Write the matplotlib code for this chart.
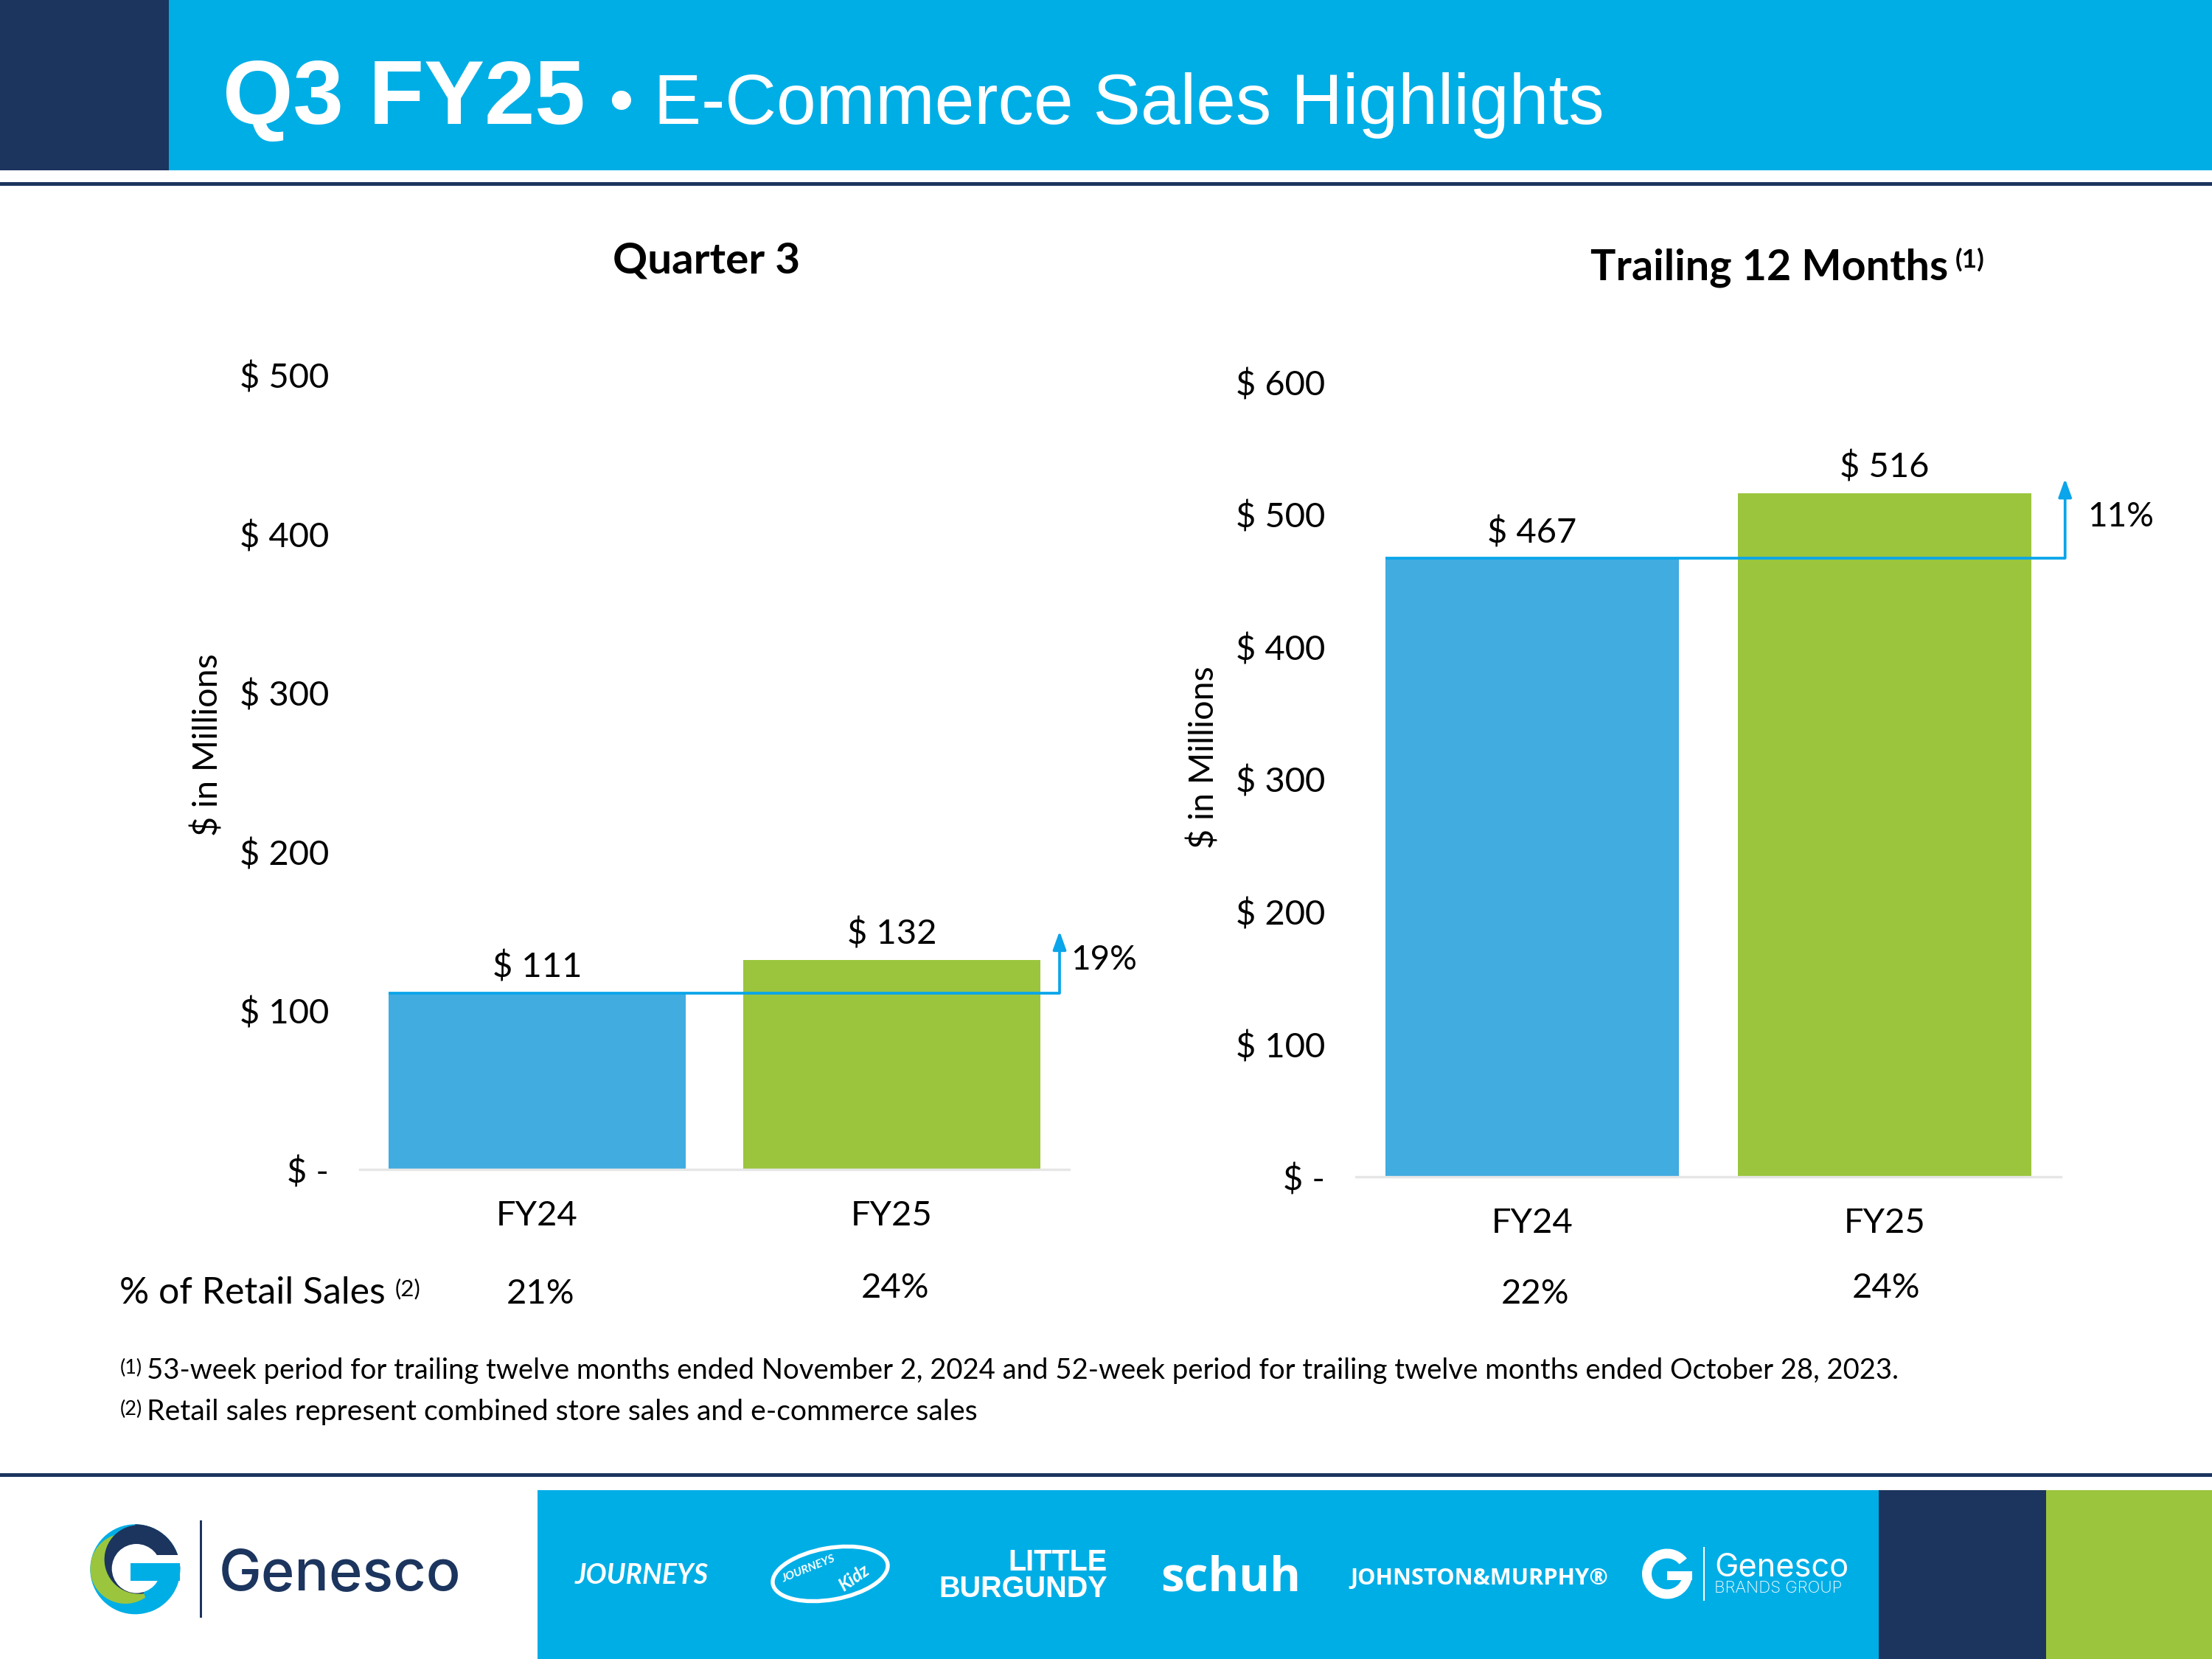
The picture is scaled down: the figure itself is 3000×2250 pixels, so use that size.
import matplotlib
matplotlib.use("Agg")
import matplotlib.pyplot as plt
from matplotlib.patches import Rectangle, Wedge, Ellipse, Circle

W, H = 3000, 2250
NAVY = "#1C355E"
CYAN = "#00AEE6"
BAR_BLUE = "#41ACE0"
BAR_GREEN = "#9BC53D"
LINE_BLUE = "#0AA5EA"
BODY_FONT = "Lato"
HEAD_FONT = "Liberation Sans"

categories = ["FY24", "FY25"]

q3_values = [111, 132]
q3_labels = ["$ 111", "$ 132"]
q3_ticks = [0, 100, 200, 300, 400, 500]
q3_tick_labels = ["$ -", "$ 100", "$ 200", "$ 300", "$ 400", "$ 500"]
q3_growth = "19%"
q3_retail = ["21%", "24%"]

ttm_values = [467, 516]
ttm_labels = ["$ 467", "$ 516"]
ttm_ticks = [0, 100, 200, 300, 400, 500, 600]
ttm_tick_labels = ["$ -", "$ 100", "$ 200", "$ 300", "$ 400", "$ 500", "$ 600"]
ttm_growth = "11%"
ttm_retail = ["22%", "24%"]

footnote_1 = "53-week period for trailing twelve months ended November 2, 2024 and 52-week period for trailing twelve months ended October 28, 2023."
footnote_2 = "Retail sales represent combined store sales and e-commerce sales"

plt.rcParams["font.family"] = BODY_FONT
fig = plt.figure(figsize=(10, 7.5), dpi=300)


def px_axes(left, top, right, bottom):
    # axes placed with pixel edges, y measured from the top of the slide
    return fig.add_axes([left / W, 1 - bottom / H, (right - left) / W, (bottom - top) / H])


# background layer in slide pixels, for the header, footer and logos
bg = fig.add_axes([0, 0, 1, 1], zorder=0)
bg.set_xlim(0, W)
bg.set_ylim(H, 0)
bg.axis("off")


def box(x0, y0, x1, y1, color):
    bg.add_patch(Rectangle((x0, y0), x1 - x0, y1 - y0, color=color, lw=0))


def t(x, y, s, size, **kw):
    kw.setdefault("color", "black")
    kw.setdefault("va", "baseline")
    bg.text(x, y, s, fontsize=size, **kw)


# ---------------- header ----------------
box(0, 0, W, 231, CYAN)
box(0, 0, 229, 231, NAVY)
box(0, 247, W, 252, NAVY)
t(302, 168, "Q3 FY25", 29.5, color="white", family=HEAD_FONT, weight="bold")
t(826, 168, "• E-Commerce Sales Highlights", 23.2, color="white", family=HEAD_FONT)

# ---------------- chart titles ----------------
t(958, 371, "Quarter 3", 14, ha="center", weight="bold")
t(2157, 380, "Trailing 12 Months", 13.8, weight="bold")
t(2652, 363, "(1)", 8.5, weight="bold")


def draw_chart(ax, values, labels, ticks, tick_labels, ymax, width, arrow_x, arrow_top, growth, growth_xy, ylabel_xy):
    ax.set_facecolor("none")
    ax.bar(categories, values, width=width, color=[BAR_BLUE, BAR_GREEN])
    ax.set_xlim(-0.5, 1.5)
    ax.set_ylim(0, ymax)
    for s in ["top", "left", "right"]:
        ax.spines[s].set_visible(False)
    ax.spines["bottom"].set_color("#E6E6E6")
    ax.spines["bottom"].set_linewidth(0.8)
    ax.set_yticks(ticks)
    ax.set_yticklabels(tick_labels)
    ax.tick_params(axis="both", length=0, labelsize=11.3)
    ax.tick_params(axis="y", pad=10)
    ax.tick_params(axis="x", pad=10)
    ax.set_ylabel("$ in Millions", fontsize=11.2, labelpad=0)
    ax.yaxis.set_label_coords(*ylabel_xy)

    for i, (v, lab) in enumerate(zip(values, labels)):
        ax.text(i, v + ymax * 0.012, lab, fontsize=11.3, ha="center", va="bottom")

    # growth connector from the FY24 bar top across to the arrow
    ax.plot([-width / 2, arrow_x], [values[0], values[0]], color=LINE_BLUE, lw=0.9, clip_on=False, zorder=4, solid_capstyle="butt")
    ax.annotate("", xy=(arrow_x, arrow_top), xytext=(arrow_x, values[0]), annotation_clip=False, zorder=4,
                arrowprops=dict(arrowstyle="-|>,head_length=0.5,head_width=0.18", color=LINE_BLUE, lw=0.9, shrinkA=0, shrinkB=0))
    ax.text(growth_xy[0], growth_xy[1], growth, fontsize=11, ha="left", va="center", clip_on=False)


# ---------------- left chart ----------------
ax1 = px_axes(488, 509, 1450, 1586)
draw_chart(ax1, q3_values, q3_labels, q3_ticks, q3_tick_labels, 500, 0.836, 1.473, 150, q3_growth, (1.505, 132), (-0.192, 0.535))

# ---------------- right chart ----------------
ax2 = px_axes(1839, 518, 2795, 1596)
draw_chart(ax2, ttm_values, ttm_labels, ttm_ticks, ttm_tick_labels, 600, 0.833, 1.512, 527, ttm_growth, (1.576, 498), (-0.193, 0.528))

# ---------------- retail share row ----------------
t(162, 1768, "% of Retail Sales", 12)
t(536, 1757, "(2)", 7.5)
t(733, 1768, q3_retail[0], 11.3, ha="center")
t(1214, 1760, q3_retail[1], 11.3, ha="center")
t(2082, 1768, ttm_retail[0], 11.3, ha="center")
t(2558, 1760, ttm_retail[1], 11.3, ha="center")

# ---------------- footnotes ----------------
t(163, 1863, "(1)", 6.5)
t(199, 1870, footnote_1, 9.2)
t(163, 1919, "(2)", 6.5)
t(199, 1926, footnote_2, 9.4)

# ---------------- footer ----------------
box(0, 1998, W, 2003, NAVY)
box(729, 2021, 2548, H, CYAN)
box(2548, 2021, 2775, H, NAVY)
box(2775, 2021, W, H, BAR_GREEN)

# Genesco G mark, built from overlapping discs clipped to the outer circle
outer = Circle((183.3, 2128.3), 61, transform=bg.transData)
bg.add_patch(Circle((183.3, 2128.3), 61, color=CYAN, lw=0))
bg.add_patch(Circle((170, 2127.3), 47.7, color=BAR_GREEN, lw=0, clip_path=outer))
bg.add_patch(Circle((188.3, 2115), 46.7, color=NAVY, lw=0, clip_path=outer))
bg.add_patch(Wedge((183.3, 2128.3), 61, 270, 360, color=NAVY, lw=0))
bg.add_patch(Wedge((183.3, 2128.3), 61, 0, 70, color=CYAN, lw=0))
bg.add_patch(Circle((185, 2127.3), 33.3, color="white", lw=0))
box(210, 2109, 250, 2120, "white")
box(177.3, 2120, 244.3, 2144, CYAN)
box(271, 2062, 273.5, 2194, NAVY)
t(297, 2157, "Genesco", 18.6, color=NAVY, family="Inter", weight="medium")

# brand marks
t(780, 2148, "JOURNEYS", 9, color="white", family=BODY_FONT, style="italic", weight="bold")
bg.add_patch(Ellipse((1126, 2134.5), 158, 70, angle=-10, fc="none", ec="white", lw=1.3))
t(1096, 2128, "JOURNEYS", 3.8, color="white", family=BODY_FONT, style="italic", weight="bold", ha="center", va="center", rotation=22)
t(1158, 2140, "Kidz", 5.8, color="white", family=BODY_FONT, style="italic", weight="bold", ha="center", va="center", rotation=35)
t(1502, 2130, "LITTLE", 9.5, color="white", family=HEAD_FONT, weight="bold", ha="right")
t(1502, 2166, "BURGUNDY", 9.5, color="white", family=HEAD_FONT, weight="bold", ha="right")
t(1574, 2158, "schuh", 15.3, color="white", family="Open Sans", weight="bold")
t(1831, 2149, "JOHNSTON&MURPHY®", 7.4, color="white", family="Open Sans", weight="bold")

# Genesco Brands Group mark
bg.add_patch(Wedge((2261, 2134.5), 34, 0, 322, width=13, color="white", lw=0))
box(2261, 2131, 2295, 2143, "white")
box(2310, 2098, 2312, 2171, "white")
t(2325, 2137, "Genesco", 10.4, color="white", family="Inter")
t(2325, 2160, "BRANDS GROUP", 5.35, color="white", family="Inter", weight="light")

fig.savefig("out.png", dpi=300)
